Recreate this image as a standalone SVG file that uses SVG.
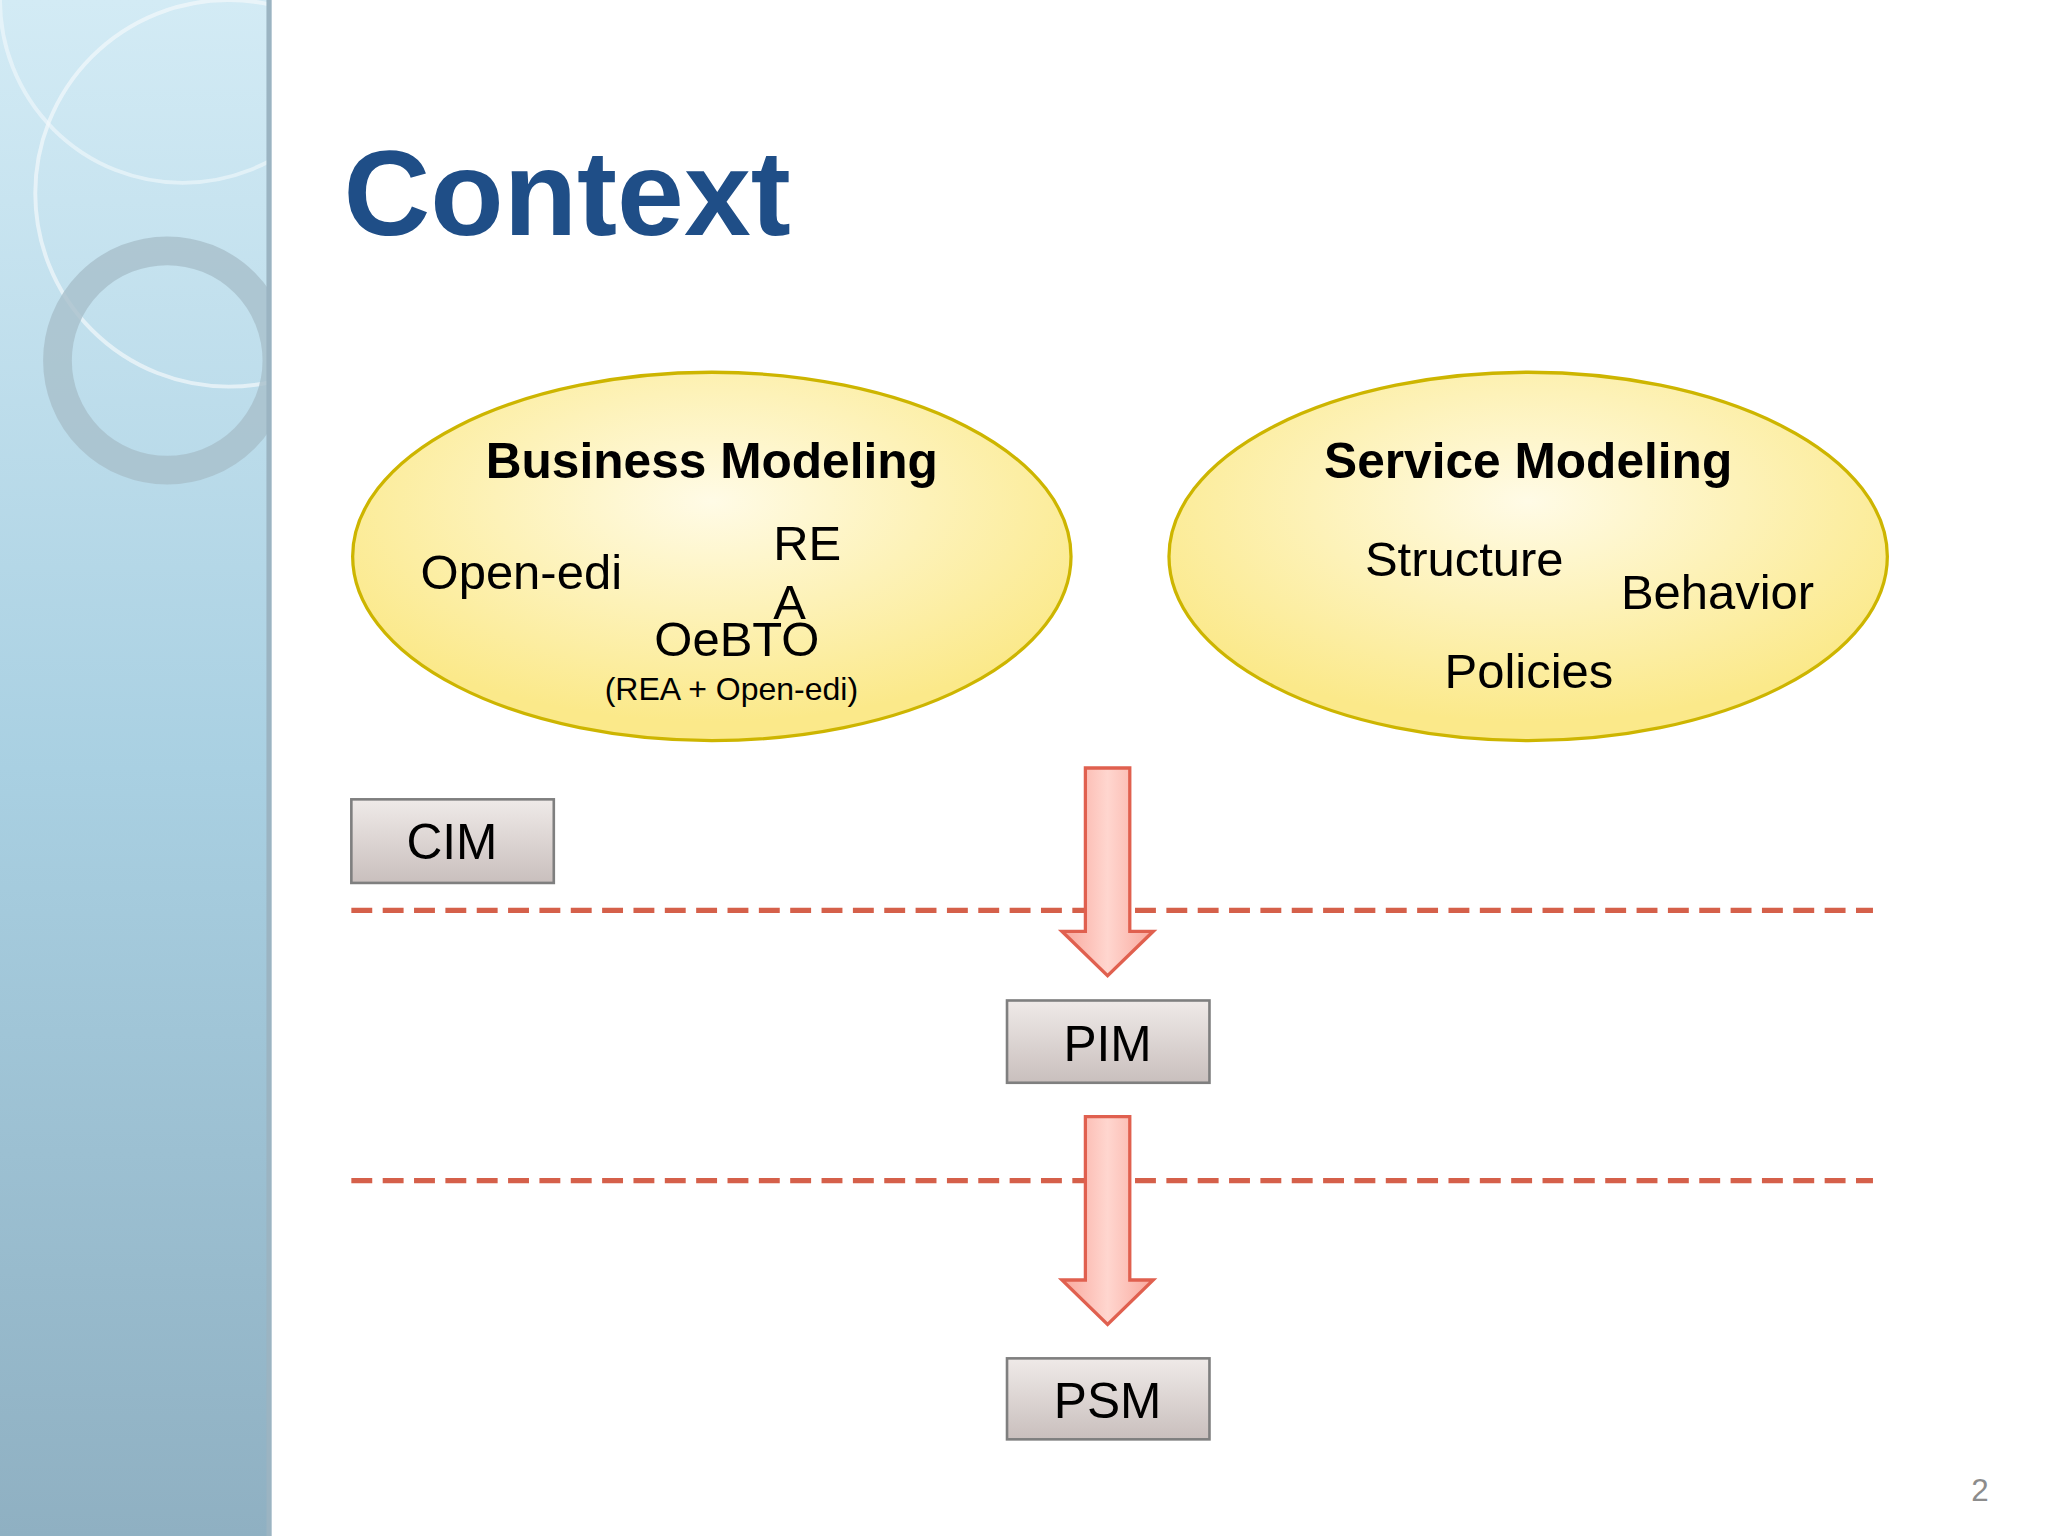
<svg xmlns="http://www.w3.org/2000/svg" width="2048" height="1536" viewBox="0 0 2048 1536">
<defs>
<clipPath id="sc"><rect width="207" height="1176"/></clipPath>
<linearGradient id="side" x1="0" y1="0" x2="0" y2="1"><stop offset="0" stop-color="#d3ebf5"/><stop offset="0.5" stop-color="#a9d0e2"/><stop offset="1" stop-color="#8fb0c2"/></linearGradient>
<radialGradient id="ell" cx="0.5" cy="0.35" r="0.6"><stop offset="0" stop-color="#fffbe6"/><stop offset="1" stop-color="#fbe98a"/></radialGradient>
<linearGradient id="box" x1="0" y1="0" x2="0" y2="1"><stop offset="0" stop-color="#efeae8"/><stop offset="1" stop-color="#c9bfbd"/></linearGradient>
<linearGradient id="arr" x1="0" y1="0" x2="1" y2="0"><stop offset="0" stop-color="#f9a79c"/><stop offset="0.5" stop-color="#ffd6cf"/><stop offset="1" stop-color="#f9a79c"/></linearGradient>
<style>
text{font-family:"Liberation Sans",Arial,sans-serif;fill:#000}
.h{font-weight:bold;font-size:38px;text-anchor:middle}
.t{font-size:37.5px}
.e{fill:url(#ell);stroke:#cdb500;stroke-width:2.5}
.b{fill:url(#box);stroke:#7f7f7f;stroke-width:2}
.bt{font-size:38px;text-anchor:middle}
.d{stroke:#d5604a;stroke-width:4;stroke-dasharray:16 8}
.a{fill:url(#arr);stroke:#e0604f;stroke-width:2.5}
</style>
</defs>
<g transform="scale(1.30612)">
<rect width="1568" height="1176" fill="#fff"/>
<g id="sidebar">
<rect width="207" height="1176" fill="url(#side)"/>
<g clip-path="url(#sc)">
<circle cx="140" cy="0" r="140" fill="none" stroke="#f2f8fb" stroke-opacity="0.6" stroke-width="3"/>
<circle cx="175" cy="148" r="148" fill="none" stroke="#f2f8fb" stroke-opacity="0.7" stroke-width="3"/>
<circle cx="128" cy="276" r="84" fill="none" stroke="#a8bfcb" stroke-width="22" stroke-opacity="0.8"/>
</g>
<rect x="204" width="4" height="1176" fill="#9bb4c2"/>
</g>
<text x="263" y="180" font-size="92" font-weight="bold" style="fill:#1f4e87">Context</text>
<g id="business">
<ellipse class="e" cx="545" cy="426" rx="275" ry="141"/>
<text class="h" x="545" y="366">Business Modeling</text>
<text class="t" x="322" y="451">Open-edi</text>
<text class="t" x="592" y="429">RE</text>
<text class="t" x="592" y="474">A</text>
<text class="t" x="501" y="502">OeBTO</text>
<text x="463" y="536" font-size="24.5">(REA + Open-edi)</text>
</g>
<g id="service">
<ellipse class="e" cx="1170" cy="426" rx="275" ry="141"/>
<text class="h" x="1170" y="366">Service Modeling</text>
<text class="t" x="1045" y="441">Structure</text>
<text class="t" x="1241" y="466">Behavior</text>
<text class="t" x="1106" y="527">Policies</text>
</g>
<g id="connectors">
<line class="d" x1="269" y1="697" x2="1434" y2="697"/>
<line class="d" x1="269" y1="904" x2="1434" y2="904"/>
<path class="a" d="M831 588H865V713H883L848 747L813 713H831Z"/>
<path class="a" d="M831 855H865V980H883L848 1014L813 980H831Z"/>
</g>
<g id="cim"><rect class="b" x="269" y="612" width="155" height="64"/><text class="bt" x="346" y="658">CIM</text></g>
<g id="pim"><rect class="b" x="771" y="766" width="155" height="63"/><text class="bt" x="848" y="812">PIM</text></g>
<g id="psm"><rect class="b" x="771" y="1040" width="155" height="62"/><text class="bt" x="848" y="1086">PSM</text></g>
<text x="1516" y="1149" font-size="24" text-anchor="middle" style="fill:#8c8c8c">2</text>
</g>
</svg>
